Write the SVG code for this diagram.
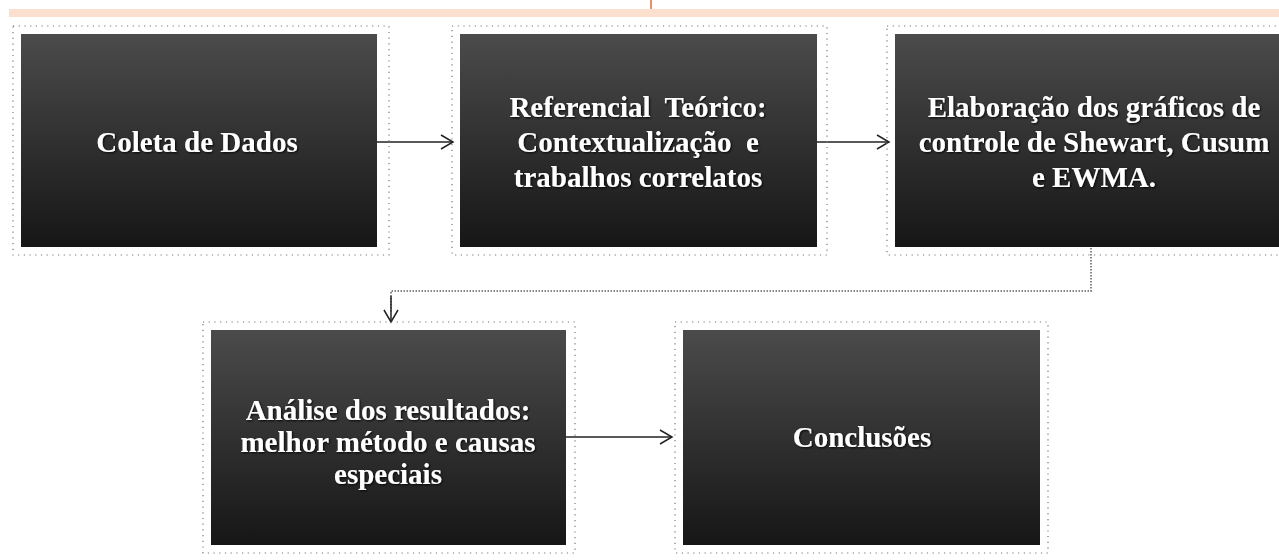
<svg xmlns="http://www.w3.org/2000/svg" width="1279" height="560" viewBox="0 0 1279 560">
<style>
.box{fill:url(#g);}
.frame{fill:none;stroke:#777;stroke-width:1.2;stroke-dasharray:1.2 4.5;}
.t{font-family:"Liberation Serif","Times New Roman",serif;font-size:29px;font-weight:bold;fill:#ffffff;text-anchor:middle;filter:url(#sh);white-space:pre;}
.c{fill:none;stroke:#222;stroke-width:1.5;}
.cd{fill:none;stroke:#888;stroke-width:2;stroke-dasharray:1.5 1.5;}
</style>
<defs>
<linearGradient id="g" x1="0" y1="0" x2="0" y2="1">
<stop offset="0" stop-color="#4b4b4b"/>
<stop offset="1" stop-color="#161616"/>
</linearGradient>
<filter id="sh" x="-10%" y="-30%" width="120%" height="160%">
<feDropShadow dx="1" dy="1" stdDeviation="0.8" flood-color="#000" flood-opacity="0.9"/>
</filter>
<marker id="a" markerWidth="16" markerHeight="16" refX="13" refY="8" orient="auto" markerUnits="userSpaceOnUse">
<path d="M1,1 L13,8 L1,15" fill="none" stroke="#222" stroke-width="1.5"/>
</marker>
</defs>
<rect x="9" y="9" width="1270" height="8" fill="#fbe0d0"/>
<rect x="650" y="0" width="2" height="9" fill="#e8906a"/>
<g id="connectors">
<line class="c" x1="377" y1="142" x2="453" y2="142" marker-end="url(#a)"/>
<line class="c" x1="817" y1="142" x2="889" y2="142" marker-end="url(#a)"/>
<polyline class="cd" points="1091,248 1091,291 391,291 391,312"/>
<line class="c" x1="391" y1="296" x2="391" y2="322" marker-end="url(#a)"/>
<line class="c" x1="566" y1="437" x2="672" y2="437" marker-end="url(#a)"/>
</g>
<g id="n1">
<rect class="frame" x="13" y="26" width="376" height="229"/>
<rect class="box" x="21" y="34" width="356" height="213"/>
<text class="t" x="197" y="152">Coleta de Dados</text>
</g>
<g id="n2">
<rect class="frame" x="452" y="26" width="375" height="229"/>
<rect class="box" x="460" y="34" width="357" height="213"/>
<text class="t" x="638" y="117">Referencial  Teórico:</text>
<text class="t" x="638" y="152">Contextualização  e</text>
<text class="t" x="638" y="187">trabalhos correlatos</text>
</g>
<g id="n3">
<rect class="frame" x="887" y="26" width="400" height="229"/>
<rect class="box" x="895" y="34" width="384" height="213"/>
<text class="t" x="1094" y="117">Elaboração dos gráficos de</text>
<text class="t" x="1094" y="152">controle de Shewart, Cusum</text>
<text class="t" x="1094" y="187">e EWMA.</text>
</g>
<g id="n4">
<rect class="frame" x="203" y="322" width="372" height="231"/>
<rect class="box" x="211" y="330" width="355" height="215"/>
<text class="t" x="388" y="420">Análise dos resultados:</text>
<text class="t" x="388" y="452">melhor método e causas</text>
<text class="t" x="388" y="484">especiais</text>
</g>
<g id="n5">
<rect class="frame" x="675" y="322" width="373" height="231"/>
<rect class="box" x="683" y="330" width="357" height="215"/>
<text class="t" x="862" y="447">Conclusões</text>
</g>
</svg>
